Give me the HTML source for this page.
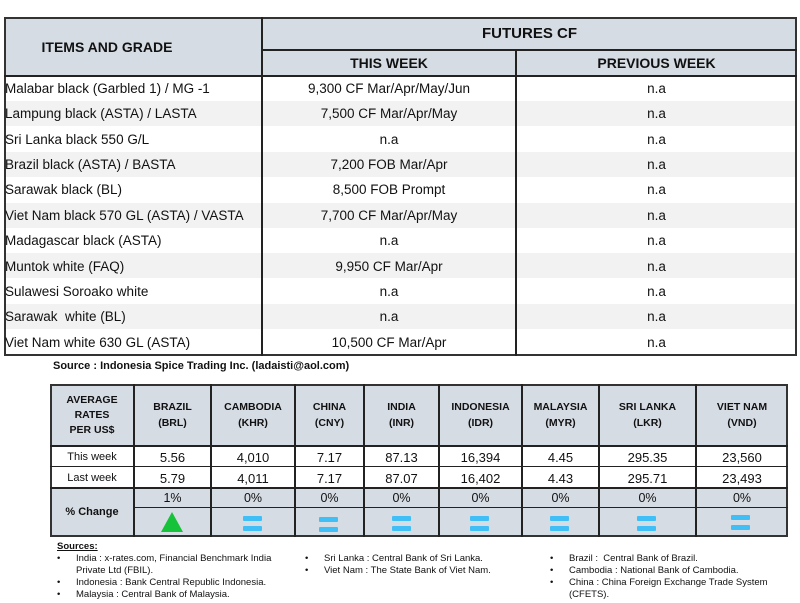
<!DOCTYPE html>
<html><head><meta charset="utf-8"><style>
*{margin:0;padding:0;box-sizing:border-box}
body{width:800px;height:603px;background:#fff;font-family:"Liberation Sans",sans-serif;color:#111;position:relative;overflow:hidden}
.a{position:absolute}
.c{position:absolute;display:flex;align-items:center;justify-content:center;text-align:center}
.hd{background:#d6dce4;font-weight:bold}
.vl{position:absolute;background:#222;width:2px}
.hl{position:absolute;background:#222;height:2px}
.eq{position:absolute;width:19px;height:5px;background:#3fbff5;border-radius:1px}
</style></head><body>
<div class="a hd" style="left:4px;top:17px;width:793px;height:59px"></div>
<div class="a" style="left:4px;top:101px;width:793px;height:25px;background:#f2f2f2"></div>
<div class="a" style="left:4px;top:152px;width:793px;height:25px;background:#f2f2f2"></div>
<div class="a" style="left:4px;top:203px;width:793px;height:25px;background:#f2f2f2"></div>
<div class="a" style="left:4px;top:253px;width:793px;height:25px;background:#f2f2f2"></div>
<div class="a" style="left:4px;top:304px;width:793px;height:25px;background:#f2f2f2"></div>
<div class="a" style="left:4px;top:17px;width:793px;height:339px;border:2px solid #333"></div>
<div class="vl" style="left:261px;top:17px;height:339px"></div>
<div class="vl" style="left:515px;top:50px;height:306px"></div>
<div class="hl" style="left:261px;top:49px;width:536px"></div>
<div class="hl" style="left:4px;top:75px;width:793px"></div>
<div class="c" style="left:4px;top:17px;width:206px;height:59px;font-weight:bold;font-size:14px">ITEMS AND GRADE</div>
<div class="c" style="left:262px;top:17px;width:535px;height:33px;font-weight:bold;font-size:15px">FUTURES CF</div>
<div class="c" style="left:262px;top:50px;width:254px;height:26px;font-weight:bold;font-size:14px">THIS WEEK</div>
<div class="c" style="left:516px;top:50px;width:281px;height:26px;font-weight:bold;font-size:14px">PREVIOUS WEEK</div>
<div class="a" style="left:5px;top:76px;width:792px;font-size:13.5px;line-height:25.36px">
<div style="display:flex"><span style="width:257px">Malabar black (Garbled 1) / MG -1</span><span style="width:254px;text-align:center">9,300 CF Mar/Apr/May/Jun</span><span style="width:281px;text-align:center">n.a</span></div>
<div style="display:flex"><span style="width:257px">Lampung black (ASTA) / LASTA</span><span style="width:254px;text-align:center">7,500 CF Mar/Apr/May</span><span style="width:281px;text-align:center">n.a</span></div>
<div style="display:flex"><span style="width:257px">Sri Lanka black 550 G/L</span><span style="width:254px;text-align:center">n.a</span><span style="width:281px;text-align:center">n.a</span></div>
<div style="display:flex"><span style="width:257px">Brazil black (ASTA) / BASTA</span><span style="width:254px;text-align:center">7,200 FOB Mar/Apr</span><span style="width:281px;text-align:center">n.a</span></div>
<div style="display:flex"><span style="width:257px">Sarawak black (BL)</span><span style="width:254px;text-align:center">8,500 FOB Prompt</span><span style="width:281px;text-align:center">n.a</span></div>
<div style="display:flex"><span style="width:257px">Viet Nam black 570 GL (ASTA) / VASTA</span><span style="width:254px;text-align:center">7,700 CF Mar/Apr/May</span><span style="width:281px;text-align:center">n.a</span></div>
<div style="display:flex"><span style="width:257px">Madagascar black (ASTA)</span><span style="width:254px;text-align:center">n.a</span><span style="width:281px;text-align:center">n.a</span></div>
<div style="display:flex"><span style="width:257px">Muntok white (FAQ)</span><span style="width:254px;text-align:center">9,950 CF Mar/Apr</span><span style="width:281px;text-align:center">n.a</span></div>
<div style="display:flex"><span style="width:257px">Sulawesi Soroako white</span><span style="width:254px;text-align:center">n.a</span><span style="width:281px;text-align:center">n.a</span></div>
<div style="display:flex"><span style="width:257px">Sarawak&nbsp; white (BL)</span><span style="width:254px;text-align:center">n.a</span><span style="width:281px;text-align:center">n.a</span></div>
<div style="display:flex"><span style="width:257px">Viet Nam white 630 GL (ASTA)</span><span style="width:254px;text-align:center">10,500 CF Mar/Apr</span><span style="width:281px;text-align:center">n.a</span></div>
</div>
<div class="a" style="left:53px;top:360px;font-size:11px;font-weight:bold">Source : Indonesia Spice Trading Inc. (ladaisti@aol.com)</div>
<div class="a hd" style="left:50px;top:384px;width:738px;height:62px"></div>
<div class="a hd" style="left:50px;top:488px;width:738px;height:48px"></div>
<div class="a" style="left:50px;top:384px;width:738px;height:153px;border:2px solid #333"></div>
<div class="hl" style="left:50px;top:445px;width:738px"></div>
<div class="hl" style="left:50px;top:466px;width:738px;height:1px"></div>
<div class="hl" style="left:50px;top:487px;width:738px"></div>
<div class="hl" style="left:134px;top:507px;width:654px;height:1px"></div>
<div class="vl" style="left:133px;top:384px;height:153px"></div>
<div class="vl" style="left:210px;top:384px;height:153px"></div>
<div class="vl" style="left:294px;top:384px;height:153px"></div>
<div class="vl" style="left:363px;top:384px;height:153px"></div>
<div class="vl" style="left:438px;top:384px;height:153px"></div>
<div class="vl" style="left:521px;top:384px;height:153px"></div>
<div class="vl" style="left:598px;top:384px;height:153px"></div>
<div class="vl" style="left:695px;top:384px;height:153px"></div>
<div class="c" style="left:50px;top:384px;width:84px;height:62px;font-weight:bold;font-size:10.5px;line-height:15px">AVERAGE<br>RATES<br>PER US$</div>
<div class="c" style="left:50px;top:446px;width:84px;height:21px;font-size:11px">This week</div>
<div class="c" style="left:50px;top:467px;width:84px;height:21px;font-size:11px">Last week</div>
<div class="c" style="left:50px;top:488px;width:84px;height:48px;font-weight:bold;font-size:11px">% Change</div>
<div class="a" style="left:134px;top:384px;width:654px;font-size:13px">
<div style="display:flex;height:62px;align-items:center;text-align:center;font-weight:bold;font-size:10.5px;line-height:16px">
<span style="width:77px">BRAZIL<br>(BRL)</span><span style="width:84px">CAMBODIA<br>(KHR)</span><span style="width:69px">CHINA<br>(CNY)</span><span style="width:75px">INDIA<br>(INR)</span><span style="width:83px">INDONESIA<br>(IDR)</span><span style="width:77px">MALAYSIA<br>(MYR)</span><span style="width:97px">SRI LANKA<br>(LKR)</span><span style="width:92px">VIET NAM<br>(VND)</span></div>
<div style="display:flex;height:21px;align-items:flex-end;text-align:center;line-height:18px">
<span style="width:77px">5.56</span><span style="width:84px">4,010</span><span style="width:69px">7.17</span><span style="width:75px">87.13</span><span style="width:83px">16,394</span><span style="width:77px">4.45</span><span style="width:97px">295.35</span><span style="width:92px">23,560</span></div>
<div style="display:flex;height:21px;align-items:flex-end;text-align:center;line-height:18px">
<span style="width:77px">5.79</span><span style="width:84px">4,011</span><span style="width:69px">7.17</span><span style="width:75px">87.07</span><span style="width:83px">16,402</span><span style="width:77px">4.43</span><span style="width:97px">295.71</span><span style="width:92px">23,493</span></div>
<div style="display:flex;height:20px;align-items:center;text-align:center;font-size:12.5px">
<span style="width:77px">1%</span><span style="width:84px">0%</span><span style="width:69px">0%</span><span style="width:75px">0%</span><span style="width:83px">0%</span><span style="width:77px">0%</span><span style="width:97px">0%</span><span style="width:92px">0%</span></div>
</div>
<svg class="a" style="left:160px;top:511px" width="24" height="22"><polygon points="12,1 23,21 1,21" fill="#16c23a"/></svg>
<div class="eq" style="left:243px;top:516px"></div><div class="eq" style="left:243px;top:526px"></div>
<div class="eq" style="left:319px;top:517px"></div><div class="eq" style="left:319px;top:527px"></div>
<div class="eq" style="left:392px;top:516px"></div><div class="eq" style="left:392px;top:526px"></div>
<div class="eq" style="left:470px;top:516px"></div><div class="eq" style="left:470px;top:526px"></div>
<div class="eq" style="left:550px;top:516px"></div><div class="eq" style="left:550px;top:526px"></div>
<div class="eq" style="left:637px;top:516px"></div><div class="eq" style="left:637px;top:526px"></div>
<div class="eq" style="left:731px;top:515px"></div><div class="eq" style="left:731px;top:525px"></div>
<div class="a" style="left:57px;top:541px;font-size:9.5px;font-weight:bold;text-decoration:underline">Sources:</div>
<div class="a" style="left:57px;top:553px;font-size:9.5px;line-height:12px;width:232px">
<div style="display:flex"><span style="width:19px;flex:none">•</span><span>India : x-rates.com, Financial Benchmark India Private Ltd (FBIL).</span></div>
<div style="display:flex"><span style="width:19px;flex:none">•</span><span>Indonesia : Bank Central Republic Indonesia.</span></div>
<div style="display:flex"><span style="width:19px;flex:none">•</span><span>Malaysia : Central Bank of Malaysia.</span></div>
</div>
<div class="a" style="left:305px;top:553px;font-size:9.5px;line-height:12px;width:230px">
<div style="display:flex"><span style="width:19px;flex:none">•</span><span>Sri Lanka : Central Bank of Sri Lanka.</span></div>
<div style="display:flex"><span style="width:19px;flex:none">•</span><span>Viet Nam : The State Bank of Viet Nam.</span></div>
</div>
<div class="a" style="left:550px;top:553px;font-size:9.5px;line-height:12px;width:235px">
<div style="display:flex"><span style="width:19px;flex:none">•</span><span>Brazil :&nbsp; Central Bank of Brazil.</span></div>
<div style="display:flex"><span style="width:19px;flex:none">•</span><span>Cambodia : National Bank of Cambodia.</span></div>
<div style="display:flex"><span style="width:19px;flex:none">•</span><span>China : China Foreign Exchange Trade System (CFETS).</span></div>
</div>
</body></html>
